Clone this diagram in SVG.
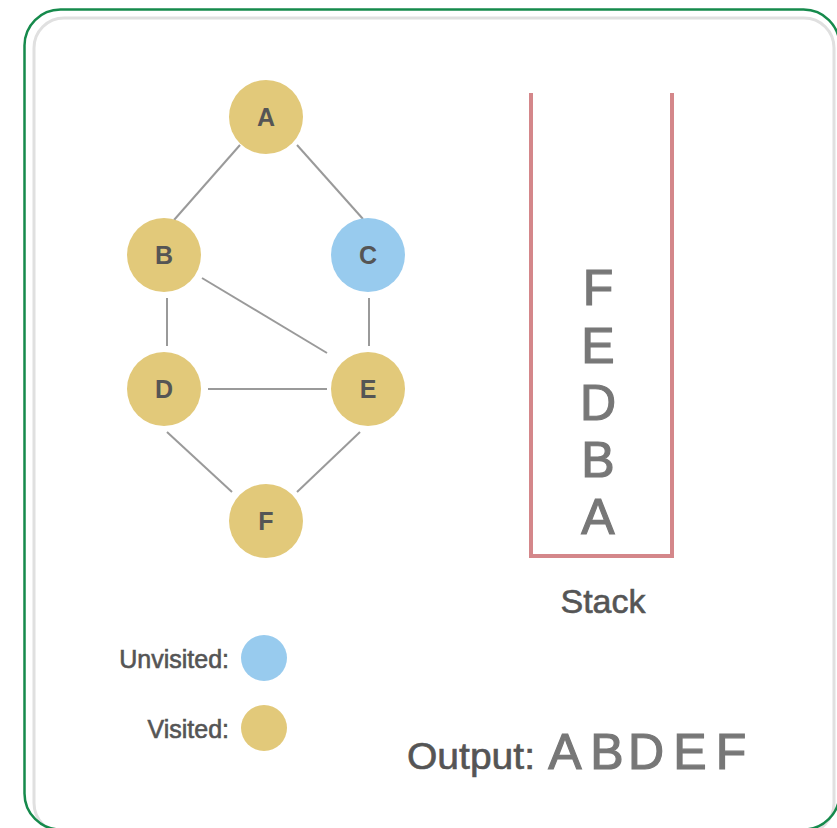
<svg xmlns="http://www.w3.org/2000/svg" width="837" height="828" viewBox="0 0 837 828">
<style>
.frame{fill:none;stroke:#168a4c;stroke-width:2.5}
.inner{fill:none;stroke:#e0e0e0;stroke-width:3}
.edge{stroke:#9a9a9a;stroke-width:2;fill:none}
.visited{fill:#e2c97a}
.unvisited{fill:#98cbee}
.nlabel{font-family:"Liberation Sans",Arial,sans-serif;font-size:25px;font-weight:bold;fill:#555;text-anchor:middle}
.stackwall{fill:none;stroke:#d4878a;stroke-width:4}
.big{font-family:"Liberation Sans",Arial,sans-serif;font-size:50px;fill:#777;stroke:#777;stroke-width:1.2;text-anchor:middle}
.lbl{font-family:"Liberation Sans",Arial,sans-serif;fill:#555;stroke:#555;stroke-width:0.6}
</style>
<rect width="837" height="828" fill="#fff"/>
<rect class="inner" x="34" y="18" width="800" height="815" rx="30"/>
<rect class="frame" x="24.5" y="9.5" width="815" height="820" rx="36"/>
<g id="connectors">
<line class="edge" x1="240" y1="145" x2="174" y2="220"/>
<line class="edge" x1="297" y1="145" x2="363" y2="219"/>
<line class="edge" x1="167" y1="298" x2="167" y2="346"/>
<line class="edge" x1="369" y1="298" x2="369" y2="346"/>
<line class="edge" x1="202" y1="278" x2="327" y2="353"/>
<line class="edge" x1="208" y1="389" x2="327" y2="389"/>
<line class="edge" x1="167" y1="432" x2="232" y2="492"/>
<line class="edge" x1="360" y1="432" x2="297" y2="492"/>
</g>
<g id="node-A"><circle class="visited" cx="266" cy="117" r="37"/><text class="nlabel" x="266" y="126">A</text></g>
<g id="node-B"><circle class="visited" cx="164" cy="255" r="37"/><text class="nlabel" x="164" y="264">B</text></g>
<g id="node-C"><circle class="unvisited" cx="368" cy="255" r="37"/><text class="nlabel" x="368" y="264">C</text></g>
<g id="node-D"><circle class="visited" cx="164" cy="389" r="37"/><text class="nlabel" x="164" y="398">D</text></g>
<g id="node-E"><circle class="visited" cx="368" cy="389" r="37"/><text class="nlabel" x="368" y="398">E</text></g>
<g id="node-F"><circle class="visited" cx="266" cy="521" r="37"/><text class="nlabel" x="266" y="530">F</text></g>
<g id="stack">
<polyline class="stackwall" points="531,93 531,556 672,556 672,93"/>
<text class="big" x="598" y="305">F</text>
<text class="big" x="598" y="363">E</text>
<text class="big" x="598" y="420">D</text>
<text class="big" x="598" y="477">B</text>
<text class="big" x="598" y="534">A</text>
<text class="lbl" x="603" y="613" font-size="34" text-anchor="middle">Stack</text>
</g>
<g id="legend">
<text class="lbl" x="229" y="668" font-size="25" text-anchor="end">Unvisited:</text>
<circle class="unvisited" cx="264" cy="658" r="23"/>
<text class="lbl" x="229" y="738" font-size="25" text-anchor="end">Visited:</text>
<circle class="visited" cx="264" cy="728" r="23"/>
</g>
<g id="output">
<text class="lbl" x="407" y="769" font-size="36" textLength="128" lengthAdjust="spacingAndGlyphs">Output:</text>
<text class="big" x="565" y="769">A</text>
<text class="big" x="607" y="769">B</text>
<text class="big" x="646" y="769">D</text>
<text class="big" x="690" y="769">E</text>
<text class="big" x="731" y="769">F</text>
</g>
</svg>
